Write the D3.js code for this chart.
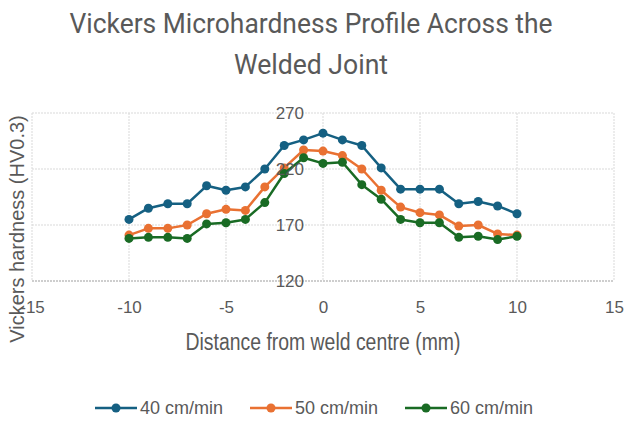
<!DOCTYPE html>
<html>
<head>
<meta charset="utf-8">
<script src="https://cdn.jsdelivr.net/npm/d3@7"></script>
<style>
  body { margin: 0; background: #fff; }
  svg { display: block; }
</style>
</head>
<body>
<div id="chart"></div>
<script>
// distance from weld centre (mm)
const distances = [-10, -9, -8, -7, -6, -5, -4, -3, -2, -1, 0, 1, 2, 3, 4, 5, 6, 7, 8, 9, 10];

// hardness values (HV0.3)
const hv40 = [175, 185, 189, 189, 205, 201, 204, 220, 241, 246, 252, 246, 241, 221, 202, 202, 202, 189, 191, 187, 180];
const hv50 = [161, 167, 167, 170, 180, 184, 183, 204, 221, 237, 236, 232, 220, 201, 186, 181, 179, 169, 170, 162, 161];
const hv60 = [158, 159, 159, 158, 171, 172, 175, 190, 216, 230, 225, 226, 206, 193, 175, 172, 172, 159, 160, 157, 160];

const seriesNames = ["40 cm/min", "50 cm/min", "60 cm/min"];
const seriesColors = ["#156082", "#E97132", "#196B24"];

const xTicks = [-15, -10, -5, 0, 5, 10, 15];
const yTicks = [120, 170, 220, 270];

const W = 632, H = 422;
const margin = {top: 113, right: 18, bottom: 141, left: 32};
const width = W - margin.left - margin.right;
const height = H - margin.top - margin.bottom;

const svg = d3.select("#chart").append("svg")
  .attr("width", W)
  .attr("height", H);

// Title (narrowed to the width of the original)
const title = svg.append("text")
  .attr("text-anchor", "middle")
  .style("font-family", "Roboto, 'Liberation Sans', sans-serif")
  .style("font-size", "28.5px")
  .style("fill", "#595959");
title.append("tspan").attr("x", 311).attr("y", 33)
  .attr("textLength", 483).attr("lengthAdjust", "spacingAndGlyphs")
  .text("Vickers Microhardness Profile Across the");
title.append("tspan").attr("x", 311).attr("y", 74)
  .attr("textLength", 154).attr("lengthAdjust", "spacingAndGlyphs")
  .text("Welded Joint");

const g = svg.append("g")
  .attr("transform", "translate(" + margin.left + "," + margin.top + ")");

const xScale = d3.scaleLinear().domain([-15, 15]).range([0, width]);
const yScale = d3.scaleLinear().domain([120, 270]).range([height, 0]);

// gridlines
g.append("g").attr("class", "xGrid")
  .selectAll("line").data(xTicks).join("line")
  .attr("x1", d => xScale(d)).attr("x2", d => xScale(d))
  .attr("y1", 0).attr("y2", height)
  .attr("stroke", "#d9d9d9")
  .attr("stroke-width", 1)
  .attr("stroke-dasharray", "2,1");

g.append("g").attr("class", "yGrid")
  .selectAll("line").data(yTicks).join("line")
  .attr("x1", 0).attr("x2", width)
  .attr("y1", d => yScale(d)).attr("y2", d => yScale(d))
  .attr("stroke", d => d === 120 ? "#bfbfbf" : "#d9d9d9")
  .attr("stroke-width", d => d === 120 ? 1.5 : 1)
  .attr("stroke-dasharray", "2,1");

// x axis labels (bottom)
const xAxis = g.append("g")
  .attr("class", "xAxisG")
  .attr("transform", "translate(0," + height + ")")
  .call(d3.axisBottom(xScale).tickValues(xTicks).tickFormat(d => String(d)).tickSize(0).tickPadding(20));
xAxis.select(".domain").remove();
xAxis.selectAll("text")
  .style("font-family", "'Liberation Sans', Arial, sans-serif")
  .style("font-size", "17px")
  .style("fill", "#595959");

// x axis title
g.append("text")
  .attr("text-anchor", "middle")
  .attr("x", xScale(0))
  .attr("y", 237)
  .attr("textLength", 275)
  .attr("lengthAdjust", "spacingAndGlyphs")
  .style("font-family", "'Liberation Sans', Arial, sans-serif")
  .style("font-size", "23px")
  .style("fill", "#595959")
  .text("Distance from weld centre (mm)");

// y axis title
svg.append("text")
  .attr("text-anchor", "middle")
  .attr("transform", "translate(24,229) rotate(-90)")
  .style("font-family", "'Liberation Sans', Arial, sans-serif")
  .style("font-size", "20px")
  .style("fill", "#595959")
  .text("Vickers hardness (HV0.3)");

// series
const series = seriesNames.map((name, i) => ({
  name: name,
  color: seriesColors[i],
  values: [hv40, hv50, hv60][i].map((v, j) => ({x: distances[j], y: v}))
}));

const line = d3.line().x(d => xScale(d.x)).y(d => yScale(d.y));

const seriesG = g.selectAll(".seriesG").data(series).join("g").attr("class", "seriesG");
seriesG.append("path")
  .attr("d", d => line(d.values))
  .attr("fill", "none")
  .attr("stroke", d => d.color)
  .attr("stroke-width", 2.5)
  .attr("stroke-linejoin", "round");
seriesG.each(function (s) {
  d3.select(this).selectAll("circle").data(s.values).join("circle")
    .attr("cx", d => xScale(d.x))
    .attr("cy", d => yScale(d.y))
    .attr("r", 4.5)
    .attr("fill", s.color);
});

// y axis labels sit at x=0, drawn over the data like the original
const yAxis = g.append("g")
  .attr("class", "yAxisG")
  .attr("transform", "translate(" + xScale(0) + ",0)")
  .call(d3.axisLeft(yScale).tickValues(yTicks).tickSize(0).tickPadding(19));
yAxis.select(".domain").remove();
yAxis.selectAll("text")
  .style("font-family", "'Liberation Sans', Arial, sans-serif")
  .style("font-size", "17px")
  .style("fill", "#595959");

// legend
const legend = svg.append("g").attr("class", "legend")
  .attr("transform", "translate(95,408)");
const item = legend.selectAll("g").data(series).join("g")
  .attr("transform", (d, i) => "translate(" + (i * 155) + ",0)");
item.append("line")
  .attr("x1", 0).attr("x2", 42)
  .attr("stroke", d => d.color)
  .attr("stroke-width", 2.5);
item.append("circle")
  .attr("cx", 21).attr("r", 4.5)
  .attr("fill", d => d.color);
item.append("text")
  .attr("x", 45)
  .attr("dy", "0.35em")
  .style("font-family", "'Liberation Sans', Arial, sans-serif")
  .style("font-size", "18px")
  .style("fill", "#595959")
  .text(d => d.name);
</script>
</body>
</html>
